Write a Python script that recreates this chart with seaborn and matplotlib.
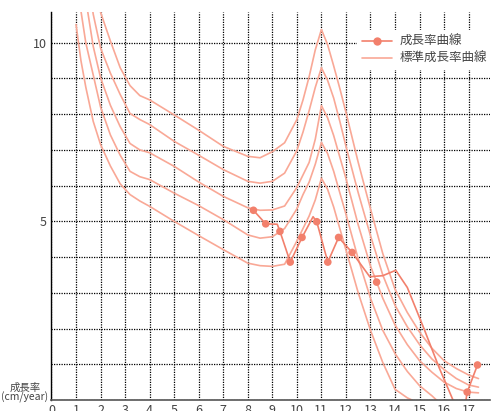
import numpy as np
import pandas as pd
import seaborn as sns
import matplotlib
matplotlib.use("Agg")
import matplotlib.pyplot as plt
from matplotlib.lines import Line2D

# standard growth-rate curves (5 bands), age in years -> cm/year
std_age = [1.0, 1.2, 1.4, 1.7, 2.0, 2.4, 2.8, 3.2, 3.6, 4.0, 5.0, 6.0, 7.0, 8.0, 8.5,
           9.0, 9.5, 10.0, 10.25, 10.5, 10.75, 11.0, 11.25, 11.5, 11.75, 12.0, 12.5,
           13.0, 13.5, 14.0, 14.5, 15.0, 15.5, 16.0, 16.5, 17.0, 17.4]
std_1 = [16.5, 15.0, 13.8, 12.2, 10.85, 10.05, 9.3, 8.8, 8.52, 8.4, 7.98, 7.55, 7.1, 6.82, 6.78,
         6.95, 7.2, 7.85, 8.4, 9.05, 9.8, 10.37, 9.95, 9.35, 8.72, 8.05, 6.65,
         5.35, 4.1, 3.1, 2.45, 1.9, 1.45, 1.1, 0.88, 0.7, 0.6]
std_2 = [15.0, 13.5, 12.3, 10.8, 9.85, 9.15, 8.55, 8.02, 7.85, 7.71, 7.24, 6.85, 6.45, 6.12, 6.07,
         6.12, 6.35, 6.98, 7.5, 8.1, 8.75, 9.3, 8.95, 8.45, 7.8, 7.1, 5.8,
         4.6, 3.5, 2.65, 2.05, 1.55, 1.15, 0.85, 0.6, 0.42, 0.36]
std_3 = [13.5, 12.2, 11.2, 9.9, 9.02, 8.25, 7.65, 7.18, 7.0, 6.92, 6.54, 6.1, 5.7, 5.38, 5.31,
         5.32, 5.43, 5.95, 6.3, 6.65, 7.3, 8.24, 7.9, 7.4, 6.8, 6.2, 4.9,
         3.75, 2.85, 2.1, 1.55, 1.1, 0.78, 0.5, 0.32, 0.22, 0.2]
std_4 = [12.0, 10.89, 9.99, 9.1, 8.2, 7.42, 6.85, 6.4, 6.25, 6.17, 5.79, 5.44, 5.05, 4.62, 4.53,
         4.57, 4.8, 5.35, 5.75, 6.1, 6.6, 7.21, 6.9, 6.4, 5.8, 5.2, 3.95,
         2.85, 1.95, 1.3, 0.8, 0.4, 0.12, -0.2, np.nan, np.nan, np.nan]
std_5 = [10.51, 9.5, 8.75, 7.8, 7.15, 6.55, 6.05, 5.75, 5.57, 5.42, 5.0, 4.6, 4.21, 3.83, 3.76,
         3.74, 3.8, 4.45, 4.8, 5.15, 5.6, 6.21, 5.9, 5.4, 4.8, 4.2, 3.0,
         1.95, 1.05, 0.3, 0.06, -0.1, np.nan, np.nan, np.nan, np.nan, np.nan]

# measured growth rate (dots) and the drawn curve through them
growth_age = [8.23, 8.73, 9.31, 9.73, 10.21, 10.81, 11.26, 11.70, 12.25, 13.25, 16.94, 17.36]
growth_rate = [5.31, 4.93, 4.72, 3.86, 4.55, 4.99, 3.86, 4.55, 4.13, 3.30, 0.22, 0.98]
curve_age = [8.23, 8.73, 9.20, 9.31, 9.73, 10.21, 10.66, 10.81, 11.26, 11.70, 12.25, 12.97,
             13.5, 14.03, 14.5, 15.0, 15.2, 15.8, 16.33, 16.75, 16.94, 17.36]
curve_rate = [5.31, 4.93, 4.92, 4.72, 3.86, 4.55, 5.13, 4.99, 3.86, 4.55, 4.13, 3.45,
              3.48, 3.63, 3.15, 2.3, 1.96, 0.9, 0.05, -0.65, 0.22, 0.98]

std_color = "#f9a896"
growth_color = "#f2806c"

sns.set_style("white")
plt.rcParams["font.family"] = ["Noto Sans CJK JP", "DejaVu Sans"]

fig = plt.figure(figsize=(4.91, 4.11), dpi=100)
ax = fig.add_axes([51 / 491, 11 / 411, 439 / 491, 388 / 411])

std = pd.DataFrame({"age": std_age, "s1": std_1, "s2": std_2, "s3": std_3,
                    "s4": std_4, "s5": std_5})
std = std.melt(id_vars="age", var_name="band", value_name="rate").dropna()
sns.lineplot(data=std, x="age", y="rate", units="band", estimator=None,
             color=std_color, lw=1.2, sort=False, ax=ax)

sns.lineplot(x=curve_age, y=curve_rate, color=growth_color, lw=1.2, sort=False, ax=ax)
sns.scatterplot(x=growth_age, y=growth_rate, color=growth_color, s=30,
                edgecolor="none", ax=ax, zorder=5)

ax.set_xlim(-0.02, 17.87)
ax.set_ylim(0, 10.86)
ax.set_xticks(range(0, 18))
ax.set_yticks(range(0, 11))
ax.set_yticklabels(["5" if v == 5 else "10" if v == 10 else "" for v in range(0, 11)])
ax.grid(True, color="black", ls=(0, (1, 1)), lw=0.9)
ax.tick_params(length=0, labelsize=9, colors="#444444", pad=3)
ax.set_xlabel("")
ax.set_ylabel("")
for s in ["top", "right"]:
    ax.spines[s].set_visible(False)
ax.spines["left"].set_color("black")
ax.spines["bottom"].set_color("#555555")
ax.spines["left"].set_linewidth(1.0)
ax.spines["bottom"].set_linewidth(1.2)

fig.text(25 / 491, 1 - 393 / 411, "成長率\n(cm/year)", ha="center", va="center",
         fontsize=7.5, color="#444444", linespacing=0.9)

handles = [Line2D([], [], color=growth_color, lw=1.2, marker="o", ms=6, mec="none"),
           Line2D([], [], color=std_color, lw=1.2)]
leg = fig.legend(handles, ["成長率曲線", "標準成長率曲線"], loc="upper left",
                 bbox_to_anchor=(351 / 491, 1 - 24 / 411), frameon=True,
                 fontsize=9, handlelength=2.4, labelspacing=0.3,
                 borderpad=0.4, handletextpad=0.6)
leg.get_frame().set_facecolor("white")
leg.get_frame().set_edgecolor("none")
leg.get_frame().set_alpha(1)
for t in leg.get_texts():
    t.set_color("#444444")

fig.savefig("out.png", dpi=100)
